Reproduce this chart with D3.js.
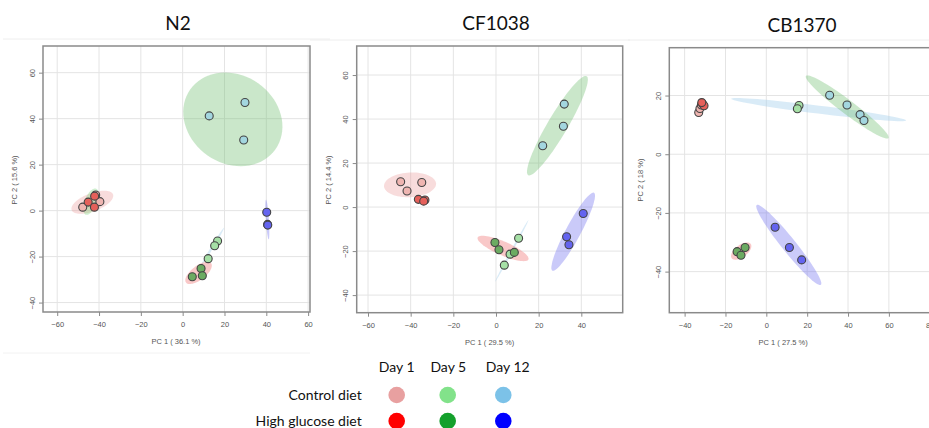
<!DOCTYPE html>
<html>
<head>
<meta charset="utf-8">
<script src="https://cdn.jsdelivr.net/npm/d3@7"></script>
<style>
body { margin: 0; background: #fff; }
svg { display: block; }
</style>
</head>
<body>
<svg id="chart" width="929" height="428"></svg>
<script>
// legend
var days = ['Day 1', 'Day 5', 'Day 12'];
var diets = ['Control diet', 'High glucose diet'];
var legendColors = [['#e8a0a0', '#82e28a', '#7cc2e8'], ['#ff0000', '#14a02c', '#0000ff']];

// group keys: C = control, H = high glucose, number = day
var markerFill = { C1: '#efb5b1', C5: '#a6e0a6', C12: '#a3d6df', H1: '#e5605a', H5: '#6cab62', H12: '#6464f0' };
var ellipseFill = {
    C1: 'rgba(232,140,140,0.30)', H1: 'rgba(120,210,120,0.35)', C5: 'rgba(160,205,235,0.40)',
    H5: 'rgba(240,110,110,0.38)', C12: 'rgba(110,190,110,0.37)', H12: 'rgba(110,110,240,0.37)'
};

var titles = ['N2', 'CF1038', 'CB1370'];
var xLabels = ['PC 1 ( 36.1 %)', 'PC 1 ( 29.5 %)', 'PC 1 ( 27.5 %)'];
var yLabels = ['PC 2 ( 15.6 %)', 'PC 2 ( 14.4 %)', 'PC 2 ( 18 %)'];
var xTicks = [[-60, -40, -20, 0, 20, 40, 60], [-60, -40, -20, 0, 20, 40], [-40, -20, 0, 20, 40, 60, 80]];
var yTicks = [[-40, -20, 0, 20, 40, 60], [-40, -20, 0, 20, 40, 60], [-40, -20, 0, 20]];
var xDomains = [[-66.8, 60.9], [-65.3, 59.4], [-47.5, 86]];
var yDomains = [[-44.1, 71.6], [-48, 73.2], [-54, 36.3]];

// scores: [group, PC1, PC2]
var n2Scores = [
    ['C1', -47.8, 1.5], ['C1', -39.6, 3.9], ['C1', -41.6, 6.8],
    ['H1', -45.2, 3.7], ['H1', -42.2, 1.5], ['H1', -42.1, 6.3],
    ['C5', 16.7, -13.2], ['C5', 15.3, -15.3], ['C5', 12.2, -20.9],
    ['H5', 8.8, -25.2], ['H5', 9.4, -28.3], ['H5', 4.6, -28.8],
    ['C12', 12.7, 41.2], ['C12', 29.8, 47], ['C12', 29.2, 30.7],
    ['H12', 40.2, -0.7], ['H12', 40.6, -6.0], ['H12', 40.7, -6.3]
];
var cf1038Scores = [
    ['C1', -44.7, 11.5], ['C1', -34.8, 11.2], ['C1', -41.7, 7.3],
    ['H1', -36.4, 3.5], ['H1', -33.3, 3.2], ['H1', -33.9, 2.7],
    ['C5', 10.6, -14.2], ['C5', 3.9, -26.4], ['C5', 6.6, -21.4],
    ['H5', -0.5, -16.1], ['H5', 1.4, -19.4], ['H5', 8.6, -20.6],
    ['C12', 32.0, 46.8], ['C12', 31.6, 36.7], ['C12', 21.9, 27.9],
    ['H12', 40.9, -2.9], ['H12', 33.1, -13.5], ['H12', 34.2, -17.1]
];
var cb1370Scores = [
    ['C1', -33.1, 14.2], ['C1', -32.5, 15.6], ['C1', -31.8, 16.8],
    ['H1', -31.2, 17.2], ['H1', -30.5, 16.5], ['H1', -31.6, 17.6],
    ['C5', 16.0, 16.6], ['C5', 15.2, 15.5],
    ['H5', -14.3, -33.2], ['H5', -10.4, -31.8], ['H5', -12.4, -34.4],
    ['C12', 31.0, 20.1], ['C12', 39.5, 16.8], ['C12', 45.9, 13.5], ['C12', 47.8, 11.5],
    ['H12', 4.3, -24.9], ['H12', 11.3, -31.8], ['H12', 17.3, -36.0]
];

// 95% regions: [group, centre x, centre y, semi-axis A (x, y), semi-axis B (x, y)]
var n2Ellipses = [
    ['C12', 24, 39.7, 20.4, -13, -12.1, -15.7],
    ['C1', -43.2, 3.65, 9.9, 3.4, 1.5, -3.7],
    ['H1', -43.9, 3.9, 2.5, 5.65, 2.7, -1.0],
    ['C5', 14.3, -15.7, 5.5, 8.26, 0.49, -0.27],
    ['H5', 7.6, -27.1, 6.0, 4.2, 2.06, -2.4],
    ['H12', 40.5, -3.9, 0.63, -8.6, 0.72, 0.04]
];
var cf1038Ellipses = [
    ['C1', -40.3, 10.1, 12.2, 0.6, -0.3, 5.6],
    ['C5', 7.4, -19.9, 7.8, 14.0, 0.41, -0.22],
    ['H5', 3.3, -18.8, 11.9, -5.0, -1.3, -2.9],
    ['C12', 28.8, 37.0, 13.7, 22.5, 4.0, -2.3],
    ['H12', 36.2, -11.2, 9.75, 17.7, 3.1, -1.6]
];
var cb1370Ellipses = [
    ['C1', -32.4, 15.5, 1.0, 2.2, 0.8, -0.2],
    ['H5', -12.3, -33.0, 4.65, 2.45, 1.77, -1.64],
    ['C5', 25.6, 15.2, 42.8, -3.7, -0.24, -1.36],
    ['C12', 39.6, 16.1, 20.2, -10.6, -2.06, -1.9],
    ['H12', 11.0, -30.9, 15.7, -13.6, -2.67, -1.5]
];

var scores = [n2Scores, cf1038Scores, cb1370Scores];
var ellipses = [n2Ellipses, cf1038Ellipses, cb1370Ellipses];

// plot boxes [left, top, right, bottom]
var boxes = [[43, 46, 310, 312], [356.7, 46, 622.7, 312.7], [669.3, 47.7, 942, 312.7]];
var titleX = [178, 496, 802];
var titleY = [30, 30, 32];
var sepLines = [[3, 330, 39], [310, 630, 40], [628, 929, 40]];

var svg = d3.select('#chart');
var tickFont = '"Liberation Sans", Arial, sans-serif';
var textFont = 'Lato, "Open Sans", sans-serif';

// faint separators from the original figure
sepLines.forEach(function (s) {
    svg.append('line').attr('x1', s[0]).attr('x2', s[1]).attr('y1', s[2]).attr('y2', s[2])
        .attr('stroke', '#eeeeee').attr('stroke-width', 1);
});
svg.append('line').attr('x1', 3).attr('x2', 310).attr('y1', 353).attr('y2', 353)
    .attr('stroke', '#f2f2f2').attr('stroke-width', 1);

titles.forEach(function (title, i) {
    var b = boxes[i];
    var x = d3.scaleLinear().domain(xDomains[i]).range([b[0], b[2]]);
    var y = d3.scaleLinear().domain(yDomains[i]).range([b[3], b[1]]);
    var g = svg.append('g');

    g.append('clipPath').attr('id', 'clip' + i).append('rect')
        .attr('x', b[0]).attr('y', b[1]).attr('width', b[2] - b[0]).attr('height', b[3] - b[1]);

    // grid
    g.selectAll('.vgrid').data(xTicks[i]).join('line').attr('class', 'vgrid')
        .attr('x1', function (d) { return x(d); }).attr('x2', function (d) { return x(d); })
        .attr('y1', b[1]).attr('y2', b[3]).attr('stroke', '#e4e4e4').attr('stroke-width', 1);
    g.selectAll('.hgrid').data(yTicks[i]).join('line').attr('class', 'hgrid')
        .attr('y1', function (d) { return y(d); }).attr('y2', function (d) { return y(d); })
        .attr('x1', b[0]).attr('x2', b[2]).attr('stroke', '#e4e4e4').attr('stroke-width', 1);

    // ellipses
    var line = d3.line().curve(d3.curveLinearClosed);
    var steps = d3.range(0, 72).map(function (k) { return k / 72 * 2 * Math.PI; });
    g.append('g').attr('clip-path', 'url(#clip' + i + ')')
        .selectAll('path').data(ellipses[i]).join('path')
        .attr('d', function (e) {
            return line(steps.map(function (t) {
                return [x(e[1] + Math.cos(t) * e[3] + Math.sin(t) * e[5]),
                        y(e[2] + Math.cos(t) * e[4] + Math.sin(t) * e[6])];
            }));
        })
        .attr('fill', function (e) { return ellipseFill[e[0]]; })
        .attr('stroke', 'none');

    // points
    g.append('g').attr('clip-path', 'url(#clip' + i + ')')
        .selectAll('circle').data(scores[i]).join('circle')
        .attr('cx', function (d) { return x(d[1]); })
        .attr('cy', function (d) { return y(d[2]); })
        .attr('r', 4)
        .attr('fill', function (d) { return markerFill[d[0]]; })
        .attr('stroke', '#444').attr('stroke-width', 1.1);

    // border
    g.append('rect').attr('x', b[0]).attr('y', b[1]).attr('width', b[2] - b[0]).attr('height', b[3] - b[1])
        .attr('fill', 'none').attr('stroke', '#8a8a8a').attr('stroke-width', 1.5);

    // axes
    var xAxis = g.append('g').attr('transform', 'translate(0,' + b[3] + ')')
        .call(d3.axisBottom(x).tickValues(xTicks[i]).tickSize(4).tickPadding(6).tickFormat(d3.format('d')));
    var yAxis = g.append('g').attr('transform', 'translate(' + b[0] + ',0)')
        .call(d3.axisLeft(y).tickValues(yTicks[i]).tickSize(4).tickFormat(d3.format('d')));
    [xAxis, yAxis].forEach(function (a) {
        a.select('.domain').remove();
        a.selectAll('line').attr('stroke', '#8a8a8a');
        a.selectAll('text').attr('fill', '#555').attr('font-size', 7.5).attr('font-family', tickFont);
    });
    yAxis.selectAll('text')
        .attr('x', 0).attr('dy', '0.35em').attr('text-anchor', 'middle')
        .attr('transform', 'translate(-11,0) rotate(-90)');

    // axis titles
    g.append('text').attr('x', (b[0] + Math.min(b[2], 929)) / 2 + (i === 2 ? -16 : 0) + (i === 0 ? -0.5 : 0))
        .attr('y', b[3] + 32).attr('text-anchor', 'middle')
        .attr('font-size', 7.5).attr('font-family', tickFont).attr('fill', '#555')
        .text(xLabels[i]);
    g.append('text').attr('transform', 'translate(' + (b[0] - 26) + ',' + 180 + ') rotate(-90)')
        .attr('text-anchor', 'middle')
        .attr('font-size', 7.5).attr('font-family', tickFont).attr('fill', '#555')
        .text(yLabels[i]);

    // title
    svg.append('text').attr('x', titleX[i]).attr('y', titleY[i]).attr('text-anchor', 'middle')
        .attr('font-size', 19).attr('font-family', textFont).attr('fill', '#111')
        .text(title);
});

// legend
var colX = d3.scaleOrdinal().domain(days).range([396.7, 447.7, 503.3]);
var headX = d3.scaleOrdinal().domain(days).range([396.7, 448.3, 507.7]);
var rowY = d3.scaleOrdinal().domain(diets).range([395, 421]);
var legend = svg.append('g').attr('font-family', textFont).attr('font-size', 14).attr('fill', '#111');

legend.selectAll('.head').data(days).join('text').attr('class', 'head')
    .attr('x', function (d) { return headX(d); }).attr('y', 372)
    .attr('text-anchor', 'middle').text(function (d) { return d; });

diets.forEach(function (diet, r) {
    legend.append('text').attr('x', 361.7).attr('y', rowY(diet) + 5)
        .attr('text-anchor', 'end').text(diet);
    legend.selectAll('.dot' + r).data(days).join('circle').attr('class', 'dot' + r)
        .attr('cx', function (d) { return colX(d); })
        .attr('cy', rowY(diet))
        .attr('r', 8.3)
        .attr('fill', function (d, j) { return legendColors[r][j]; });
});
</script>
</body>
</html>
